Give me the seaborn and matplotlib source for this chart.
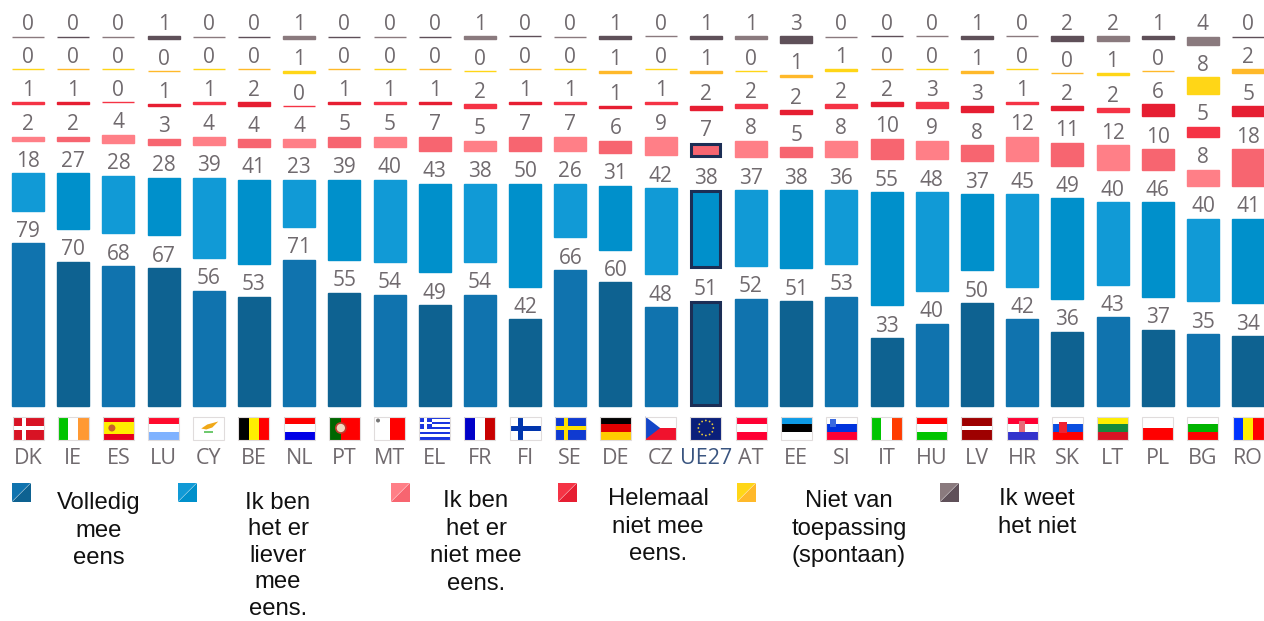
"""Eurobarometer style stacked bars with gaps, one column per country, flags below."""
import matplotlib
matplotlib.use("Agg")
import matplotlib.pyplot as plt
from matplotlib.patches import Rectangle, Polygon, Circle
import numpy as np
import pandas as pd
import seaborn as sns

countries = ["DK", "IE", "ES", "LU", "CY", "BE", "NL", "PT", "MT", "EL", "FR", "FI", "SE", "DE",
             "CZ", "UE27", "AT", "EE", "SI", "IT", "HU", "LV", "HR", "SK", "LT", "PL", "BG", "RO"]

volledig = [79, 70, 68, 67, 56, 53, 71, 55, 54, 49, 54, 42, 66, 60, 48, 51, 52, 51, 53, 33, 40, 50, 42, 36, 43, 37, 35, 34]
liever_eens = [18, 27, 28, 28, 39, 41, 23, 39, 40, 43, 38, 50, 26, 31, 42, 38, 37, 38, 36, 55, 48, 37, 45, 49, 40, 46, 40, 41]
niet_eens = [2, 2, 4, 3, 4, 4, 4, 5, 5, 7, 5, 7, 7, 6, 9, 7, 8, 5, 8, 10, 9, 8, 12, 11, 12, 10, 8, 18]
helemaal_niet = [1, 1, 0, 1, 1, 2, 0, 1, 1, 1, 2, 1, 1, 1, 1, 2, 2, 2, 2, 2, 3, 3, 1, 2, 2, 6, 5, 5]
niet_van_toepassing = [0, 0, 0, 0, 0, 0, 1, 0, 0, 0, 0, 0, 0, 1, 0, 1, 0, 1, 1, 0, 0, 1, 0, 0, 1, 0, 8, 2]
weet_niet = [0, 0, 0, 1, 0, 0, 1, 0, 0, 0, 1, 0, 0, 1, 0, 1, 1, 3, 0, 0, 0, 1, 0, 2, 2, 1, 4, 0]

series = [volledig, liever_eens, niet_eens, helemaal_niet, niet_van_toepassing, weet_niet]
shades = [("#1073ae", "#0e6291"), ("#119ad6", "#0090cb"), ("#ff7f87", "#f76570"),
          ("#f53345", "#e61e32"), ("#ffd617", "#ffb92a"), ("#8a7a7e", "#5f5059")]
legend_labels = ["Volledig\nmee\neens", "Ik ben\nhet er\nliever\nmee\neens.",
                 "Ik ben\nhet er\nniet mee\neens.", "Helemaal\nniet mee\neens.",
                 "Niet van\ntoepassing\n(spontaan)", "Ik weet\nhet niet"]

# flags: stripe direction + colours, extras are drawn on top in draw_flag
flags = {
    "DK": ("h", ["#d81324"]), "IE": ("v", ["#00c400", "#ffffff", "#ff9933"]),
    "ES": ("h", ["#e8001c", "#ffee00", "#ffee00", "#e8001c"]), "LU": ("h", ["#ff0a2d", "#ffffff", "#7fb2ff"]),
    "CY": ("h", ["#ffffff"]), "BE": ("v", ["#000000", "#ffee00", "#ff0000"]),
    "NL": ("h", ["#ff0000", "#ffffff", "#0000e6"]), "PT": ("v", ["#006600", "#006600", "#ff0000", "#ff0000", "#ff0000"]),
    "MT": ("v", ["#ffffff", "#ff0000"]), "EL": ("h", ["#1a35e0", "#ffffff"] * 4 + ["#1a35e0"]),
    "FR": ("v", ["#0000c8", "#ffffff", "#c80000"]), "FI": ("h", ["#ffffff"]),
    "SE": ("h", ["#0f3ad1"]), "DE": ("h", ["#000000", "#e00000", "#ffcc00"]),
    "CZ": ("h", ["#ffffff", "#f0122d"]), "UE27": ("h", ["#0a1f7a"]),
    "AT": ("h", ["#ff0033", "#ffffff", "#ff0033"]), "EE": ("h", ["#0d9be6", "#000000", "#ffffff"]),
    "SI": ("h", ["#ffffff", "#0033dd", "#ff0033"]), "IT": ("v", ["#00c400", "#ffffff", "#ff3c00"]),
    "HU": ("h", ["#ff0000", "#ffffff", "#00c400"]), "LV": ("h", ["#9e0000", "#9e0000", "#ffffff", "#9e0000", "#9e0000"]),
    "HR": ("h", ["#ff0033", "#ffffff", "#3333cc"]), "SK": ("h", ["#ffffff", "#0b4ee0", "#ff0000"]),
    "LT": ("h", ["#ffee00", "#158a3c", "#d81324"]), "PL": ("h", ["#ffffff", "#ff0000"]),
    "BG": ("h", ["#ffffff", "#00b400", "#ff0000"]), "RO": ("v", ["#0033ff", "#ffee00", "#ff0000"]),
}

WIDTH, HEIGHT = 1264, 621
PX_PER_UNIT = 2.06
BASE_Y = 406
FIRST_X, STEP_X = 28, 45.19
BAR_PX = 32
GAP = 32.7 / PX_PER_UNIT
TEXT_GRAY = "#706a6e"


def draw_flag(pix, code, cx):
    """Little flag in pixel coordinates, centred on cx."""
    x0, y0, w, h = cx - 15.5, 416.5, 31, 23
    direction, colours = flags[code]
    n = len(colours)
    for i, c in enumerate(colours):
        if direction == "h":
            r = Rectangle((x0, y0 + i * h / n), w, h / n, fc=c, lw=0)
        else:
            r = Rectangle((x0 + i * w / n, y0), w / n, h, fc=c, lw=0)
        pix.add_patch(r)

    def box(x, y, bw, bh, c):
        pix.add_patch(Rectangle((x0 + x, y0 + y), bw, bh, fc=c, lw=0))

    if code == "DK":
        box(9, 0, 4, h, "#ffffff")
        box(0, 9.5, w, 3.5, "#ffffff")
    elif code == "FI":
        box(8, 0, 5.5, h, "#0035ad")
        box(0, 9, w, 5, "#0035ad")
    elif code == "SE":
        box(9, 0, 4.5, h, "#ffe000")
        box(0, 9.5, w, 4, "#ffe000")
    elif code == "EL":
        box(0, 0, 12.5, 12.5, "#1a35e0")
        box(5, 0, 2.5, 12.5, "#ffffff")
        box(0, 5, 12.5, 2.5, "#ffffff")
    elif code == "CZ":
        pix.add_patch(Polygon([(x0, y0), (x0 + 15, y0 + h / 2), (x0, y0 + h)], fc="#1446c8", lw=0))
    elif code == "CY":
        pix.add_patch(Polygon([(x0 + 8, y0 + 12), (x0 + 14, y0 + 8), (x0 + 25, y0 + 5), (x0 + 19, y0 + 11), (x0 + 13, y0 + 13)],
                              fc="#f0a818", lw=0))
        box(11, 14, 9, 2.5, "#6fc96f")
    elif code == "MT":
        pix.add_patch(Circle((x0 + 4, y0 + 4), 2, fc="#777777", lw=0))
    elif code == "ES":
        pix.add_patch(Circle((x0 + 9, y0 + h / 2), 3.5, fc="#c8602c", lw=0))
    elif code == "PT":
        pix.add_patch(Circle((x0 + 12, y0 + h / 2), 5, fc="#f2d7c0", ec="#c0392b", lw=1.2))
    elif code == "HR":
        box(12.5, 4, 6, 11, "#e86a78")
    elif code == "SK":
        box(7, 5, 8, 11, "#ee2233")
    elif code == "SI":
        box(4, 2, 6, 8, "#3a6ae0")
    elif code == "UE27":
        for a in np.linspace(0, 2 * np.pi, 12, endpoint=False):
            pix.add_patch(Circle((cx + 7.5 * np.cos(a), y0 + h / 2 + 7.5 * np.sin(a)), 0.9, fc="#e6c93c", lw=0))
    pix.add_patch(Rectangle((x0, y0), w, h, fc="none", ec="#e0dcdc", lw=0.8))


sns.set_theme(style="white")
plt.rcParams["font.family"] = ["Open Sans", "DejaVu Sans"]

fig = plt.figure(figsize=(WIDTH / 100, HEIGHT / 100), dpi=100)
ax = fig.add_axes([0, 0, 1, 1])

shade_idx = np.arange(len(countries)) % 2
bottom = np.zeros(len(countries))
for k, values in enumerate(series):
    df = pd.DataFrame({"country": countries, "value": values, "bottom": bottom, "shade": shade_idx})
    for s in (0, 1):
        sub = df[df["shade"] == s]
        sns.barplot(data=sub, x="country", y="value", order=countries, color=shades[k][s], saturation=1,
                    width=BAR_PX / STEP_X, bottom=sub["bottom"].values, errorbar=None,
                    edgecolor=shades[k][s], linewidth=1.0, ax=ax)
    tops = bottom + np.array(values)
    for i, v in enumerate(values):
        ax.annotate(str(v), (i, tops[i]), xytext=(0, 4.6), textcoords="offset points", ha="center", va="baseline",
                    fontsize=15, color=TEXT_GRAY)
    bottom = tops + GAP

# UE27 gets the dark outline on the three biggest answers
ue_i = countries.index("UE27")
inset_x = 1.5 / STEP_X
inset_y = 1.5 / PX_PER_UNIT
for k in range(3):
    low = sum(series[j][ue_i] for j in range(k)) + k * GAP
    for patch in ax.patches:
        if abs(patch.get_x() + patch.get_width() / 2 - ue_i) < 0.01 and abs(patch.get_y() - low) < 0.01:
            patch.set_x(patch.get_x() + inset_x)
            patch.set_width(patch.get_width() - 2 * inset_x)
            patch.set_y(patch.get_y() + inset_y)
            patch.set_height(patch.get_height() - 2 * inset_y)
            patch.set_edgecolor("#1c2e55")
            patch.set_linewidth(2.2)

ax.set_xlim(-FIRST_X / STEP_X, (WIDTH - FIRST_X) / STEP_X)
ax.set_ylim(-(HEIGHT - BASE_Y) / PX_PER_UNIT, BASE_Y / PX_PER_UNIT)
ax.set_xlabel("")
ax.set_ylabel("")
ax.set_yticks([])
ax.tick_params(axis="x", length=0, pad=-124.7, labelsize=15.5, labelcolor=TEXT_GRAY)
for lab in ax.get_xticklabels():
    if lab.get_text() == "UE27":
        lab.set_color("#3a5580")
sns.despine(ax=ax, left=True, bottom=True)

# overlay in pixel coordinates for flags and the hand placed legend
pix = fig.add_axes([0, 0, 1, 1])
pix.set_xlim(0, WIDTH)
pix.set_ylim(HEIGHT, 0)
pix.axis("off")

for i, code in enumerate(countries):
    draw_flag(pix, code, FIRST_X + i * STEP_X)

swatch_x = [12, 178, 391, 558, 737, 940]
label_x = [99, 278, 476, 658, 849, 1037]
label_y = [492, 492, 490, 488, 490, 488]
label_spacing = [1.325, 1.26, 1.325, 1.325, 1.325, 1.325]  # 5 line label has to stay inside the figure
for k, label in enumerate(legend_labels):
    sx = swatch_x[k]
    pix.add_patch(Polygon([(sx, 483), (sx + 18.5, 483), (sx, 501.5)], fc=shades[k][0], lw=0))
    pix.add_patch(Polygon([(sx + 18.5, 483), (sx + 18.5, 501.5), (sx, 501.5)], fc=shades[k][1], lw=0))
    pix.text(label_x[k], label_y[k], label, ha="center", va="top", fontsize=17.2, color="#111111",
             family=["Liberation Sans", "DejaVu Sans"], linespacing=label_spacing[k])

fig.savefig("out.png", dpi=100)
plt.close(fig)
